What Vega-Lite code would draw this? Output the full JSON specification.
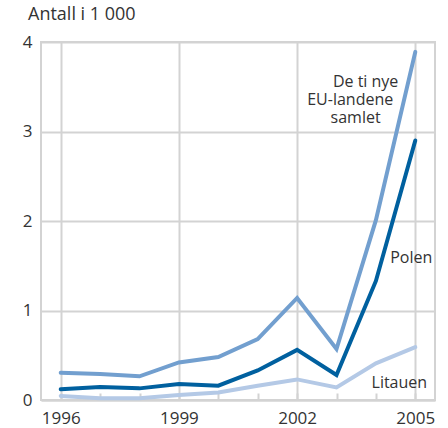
{
  "$schema": "https://vega.github.io/schema/vega-lite/v6.json",
  "width": 394,
  "height": 358,
  "autosize": {"type": "none"},
  "padding": {"left": 41, "top": 42, "right": 13, "bottom": 28},
  "background": "white",
  "config": {
    "font": "Open Sans",
    "view": {"stroke": "#d3d3d3", "strokeWidth": 2}
  },
  "title": {"text": "Antall i 1 000", "anchor": "start", "frame": "group", "dx": -13, "offset": 9, "fontSize": 18, "fontWeight": "normal", "color": "#333333", "font": "Open Sans"},
  "datasets": {
    "lines": [
      {"year": 1996, "value": 0.305, "series": "EU10"},
      {"year": 1997, "value": 0.29, "series": "EU10"},
      {"year": 1998, "value": 0.265, "series": "EU10"},
      {"year": 1999, "value": 0.42, "series": "EU10"},
      {"year": 2000, "value": 0.48, "series": "EU10"},
      {"year": 2001, "value": 0.68, "series": "EU10"},
      {"year": 2002, "value": 1.14, "series": "EU10"},
      {"year": 2003, "value": 0.57, "series": "EU10"},
      {"year": 2004, "value": 2.01, "series": "EU10"},
      {"year": 2005, "value": 3.89, "series": "EU10"},
      {"year": 1996, "value": 0.12, "series": "Polen"},
      {"year": 1997, "value": 0.145, "series": "Polen"},
      {"year": 1998, "value": 0.13, "series": "Polen"},
      {"year": 1999, "value": 0.18, "series": "Polen"},
      {"year": 2000, "value": 0.16, "series": "Polen"},
      {"year": 2001, "value": 0.33, "series": "Polen"},
      {"year": 2002, "value": 0.56, "series": "Polen"},
      {"year": 2003, "value": 0.28, "series": "Polen"},
      {"year": 2004, "value": 1.33, "series": "Polen"},
      {"year": 2005, "value": 2.9, "series": "Polen"},
      {"year": 1996, "value": 0.045, "series": "Litauen"},
      {"year": 1997, "value": 0.02, "series": "Litauen"},
      {"year": 1998, "value": 0.02, "series": "Litauen"},
      {"year": 1999, "value": 0.055, "series": "Litauen"},
      {"year": 2000, "value": 0.085, "series": "Litauen"},
      {"year": 2001, "value": 0.16, "series": "Litauen"},
      {"year": 2002, "value": 0.23, "series": "Litauen"},
      {"year": 2003, "value": 0.14, "series": "Litauen"},
      {"year": 2004, "value": 0.41, "series": "Litauen"},
      {"year": 2005, "value": 0.59, "series": "Litauen"}
    ],
    "labels": [
      {"year": 2004.57, "value": 3.55, "text": "De ti nye"},
      {"year": 2004.44, "value": 3.35, "text": "EU-landene"},
      {"year": 2004.12, "value": 3.15, "text": "samlet"},
      {"year": 2005.43, "value": 1.59, "text": "Polen"},
      {"year": 2005.3, "value": 0.19, "text": "Litauen"}
    ]
  },
  "layer": [
    {
      "data": {"name": "lines"},
      "mark": {"type": "line", "strokeWidth": 4, "strokeCap": "round", "strokeJoin": "miter"},
      "encoding": {
        "x": {
          "field": "year", "type": "quantitative",
          "scale": {"domain": [1995.5, 2005.5], "nice": false, "zero": false},
          "axis": {
            "title": null,
            "values": [1996, 1997, 1998, 1999, 2000, 2001, 2002, 2003, 2004, 2005],
            "format": "d",
            "labelExpr": "(datum.value - 1996) % 3 === 0 ? datum.label : ''",
            "grid": true,
            "gridColor": "#d3d3d3",
            "gridWidth": 2,
            "gridOpacity": {"condition": {"test": "(datum.value - 1996) % 3 === 0", "value": 1}, "value": 0},
            "domain": true,
            "domainColor": "#d3d3d3",
            "domainWidth": 2,
            "ticks": true,
            "tickSize": -7,
            "tickColor": "#d3d3d3",
            "tickWidth": 2,
            "labelPadding": 17,
            "labelFontSize": 17,
            "labelColor": "#333333",
            "labelFont": "Open Sans"
          }
        },
        "y": {
          "field": "value", "type": "quantitative",
          "scale": {"domain": [0, 4], "nice": false},
          "axis": {
            "title": null,
            "values": [0, 1, 2, 3, 4],
            "format": "d",
            "grid": true,
            "gridColor": "#d3d3d3",
            "gridWidth": 2,
            "domain": false,
            "ticks": false,
            "labelPadding": 9,
            "labelFontSize": 17,
            "labelColor": "#333333",
            "labelFont": "Open Sans"
          }
        },
        "color": {
          "field": "series", "type": "nominal",
          "scale": {"domain": ["EU10", "Polen", "Litauen"], "range": ["#729fcf", "#00609f", "#b4c9e6"]},
          "legend": null
        },
        "order": {"field": "year"}
      }
    },
    {
      "data": {"name": "labels"},
      "mark": {"type": "text", "align": "right", "baseline": "middle", "fontSize": 16, "lineHeight": 18, "color": "#333333", "font": "Open Sans"},
      "encoding": {
        "x": {"field": "year", "type": "quantitative"},
        "y": {"field": "value", "type": "quantitative"},
        "text": {"field": "text"}
      }
    }
  ]
}
